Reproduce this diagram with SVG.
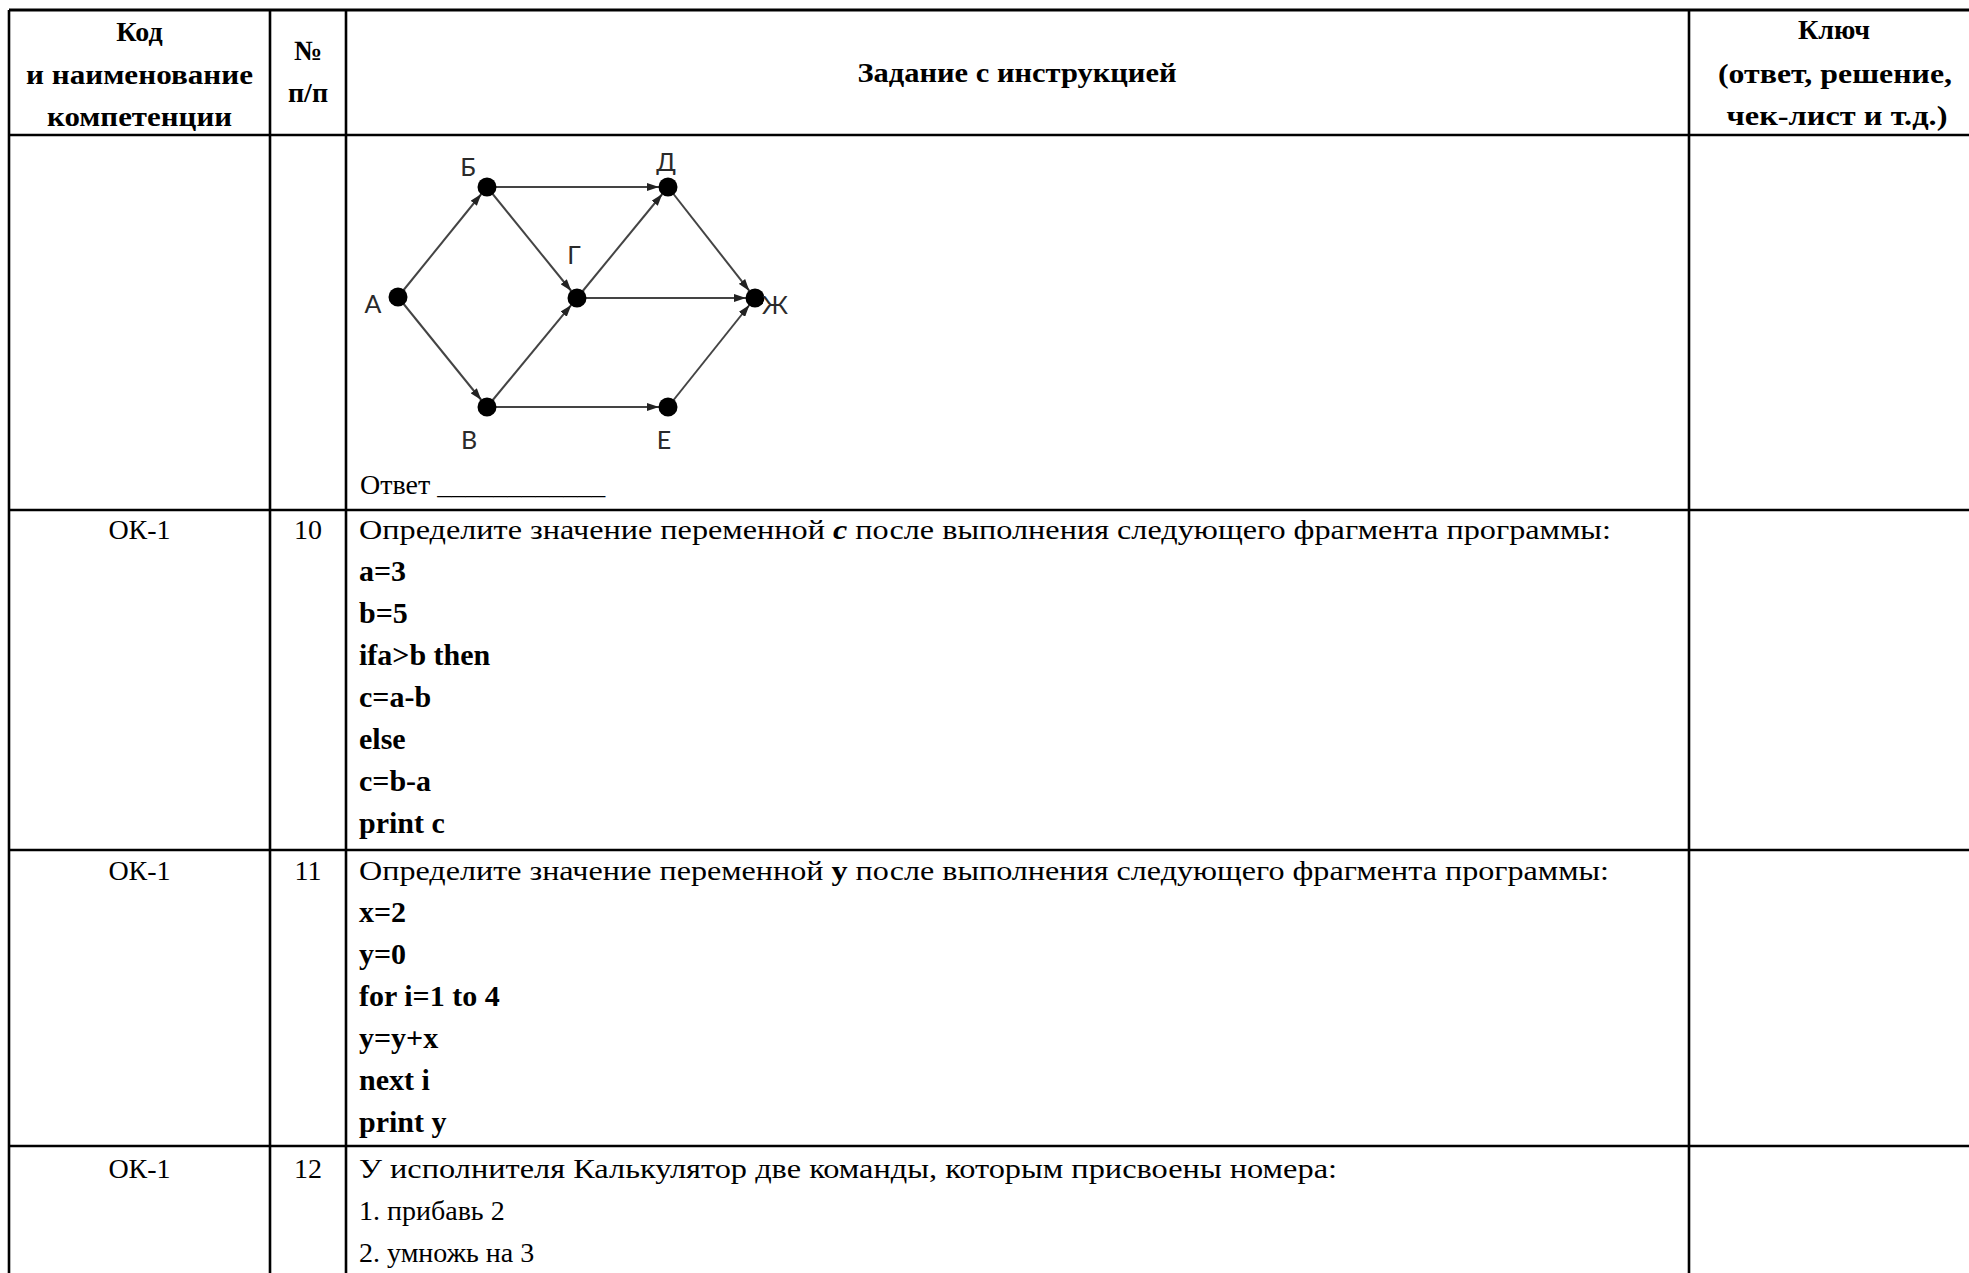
<svg xmlns="http://www.w3.org/2000/svg" width="1969" height="1273" viewBox="0 0 1969 1273">
<style>
.bg{fill:#fff}
.grid{stroke:#000;stroke-width:2.6;fill:none}
.t{font-family:"Liberation Serif","Times New Roman",serif;font-size:28px;fill:#000}
.b{font-weight:bold}
.code{font-size:30px}
.c{text-anchor:middle}
.i{font-style:italic}
.edge{stroke:#444;stroke-width:2;fill:none}
.node{fill:#000}
.lbl{font-family:Lato,"Noto Sans","Liberation Sans",sans-serif;font-size:25px;fill:#2a2a2a;text-anchor:middle}
</style>
<defs>
<marker id="arr" viewBox="0 0 12 8" refX="12" refY="4" markerWidth="12" markerHeight="8" markerUnits="userSpaceOnUse" orient="auto">
<path d="M0,0 L12,4 L0,8 z" fill="#222"/>
</marker>
</defs>
<rect class="bg" x="0" y="0" width="1969" height="1273"/>

<g id="table-grid" class="grid">
<line x1="9" y1="10" x2="1969" y2="10" stroke-width="3"/>
<line x1="9" y1="135" x2="1969" y2="135"/>
<line x1="9" y1="510" x2="1969" y2="510"/>
<line x1="9" y1="850" x2="1969" y2="850"/>
<line x1="9" y1="1146" x2="1969" y2="1146"/>
<line x1="9" y1="10" x2="9" y2="1273"/>
<line x1="270" y1="10" x2="270" y2="1273"/>
<line x1="346" y1="10" x2="346" y2="1273"/>
<line x1="1689" y1="10" x2="1689" y2="1273"/>
</g>

<g id="header">
<text class="t b c" x="139.5" y="41">Код</text>
<text class="t b c" x="139.5" y="84" textLength="227" lengthAdjust="spacingAndGlyphs">и наименование</text>
<text class="t b c" x="139.5" y="126" textLength="185" lengthAdjust="spacingAndGlyphs">компетенции</text>
<text class="t b c" x="308" y="60">№</text>
<text class="t b c" x="308" y="102">п/п</text>
<text class="t b c" x="1017" y="82" textLength="319" lengthAdjust="spacingAndGlyphs">Задание с инструкцией</text>
<text class="t b c" x="1834" y="39">Ключ</text>
<text class="t b c" x="1835" y="83" textLength="234" lengthAdjust="spacingAndGlyphs">(ответ, решение,</text>
<text class="t b c" x="1837" y="125" textLength="221" lengthAdjust="spacingAndGlyphs">чек-лист и т.д.)</text>
</g>

<g id="row-graph">
<g id="connectors">
<line class="edge" x1="398" y1="297" x2="481.3" y2="194" marker-end="url(#arr)"/>
<line class="edge" x1="398" y1="297" x2="481.3" y2="400" marker-end="url(#arr)"/>
<line class="edge" x1="487" y1="187" x2="659" y2="187" marker-end="url(#arr)"/>
<line class="edge" x1="487" y1="187" x2="571.3" y2="291" marker-end="url(#arr)"/>
<line class="edge" x1="487" y1="407" x2="571.3" y2="304.9" marker-end="url(#arr)"/>
<line class="edge" x1="487" y1="407" x2="659" y2="407" marker-end="url(#arr)"/>
<line class="edge" x1="577" y1="298" x2="662.3" y2="194" marker-end="url(#arr)"/>
<line class="edge" x1="577" y1="298" x2="746" y2="298" marker-end="url(#arr)"/>
<line class="edge" x1="668" y1="187" x2="749.4" y2="290.9" marker-end="url(#arr)"/>
<line class="edge" x1="668" y1="407" x2="749.4" y2="305" marker-end="url(#arr)"/>
</g>
<g id="node-A"><circle class="node" cx="398" cy="297" r="9.5"/><text class="lbl" x="373" y="313">А</text></g>
<g id="node-B"><circle class="node" cx="487" cy="187" r="9.5"/><text class="lbl" x="468" y="176">Б</text></g>
<g id="node-V"><circle class="node" cx="487" cy="407" r="9.5"/><text class="lbl" x="469" y="449">В</text></g>
<g id="node-G"><circle class="node" cx="577" cy="298" r="9.5"/><text class="lbl" x="574" y="264">Г</text></g>
<g id="node-D"><circle class="node" cx="668" cy="187" r="9.5"/><text class="lbl" x="666" y="171">Д</text></g>
<g id="node-E"><circle class="node" cx="668" cy="407" r="9.5"/><text class="lbl" x="664" y="449">Е</text></g>
<g id="node-Zh"><circle class="node" cx="755" cy="298" r="9.5"/><text class="lbl" x="775" y="314">Ж</text></g>
<text class="t" x="360" y="494">Ответ ____________</text>
</g>

<g id="row-10">
<text class="t c" x="139.5" y="539">ОК-1</text>
<text class="t c" x="308" y="539">10</text>
<text class="t" x="359" y="539" textLength="1252" lengthAdjust="spacingAndGlyphs">Определите значение переменной <tspan class="b i">c</tspan> после выполнения следующего фрагмента программы:</text>
<text class="t b code" x="359" y="581">a=3</text>
<text class="t b code" x="359" y="623">b=5</text>
<text class="t b code" x="359" y="665">ifa&gt;b then</text>
<text class="t b code" x="359" y="707">c=a-b</text>
<text class="t b code" x="359" y="749">else</text>
<text class="t b code" x="359" y="791">c=b-a</text>
<text class="t b code" x="359" y="833">print c</text>
</g>

<g id="row-11">
<text class="t c" x="139.5" y="880">ОК-1</text>
<text class="t c" x="308" y="880">11</text>
<text class="t" x="359" y="880" textLength="1250" lengthAdjust="spacingAndGlyphs">Определите значение переменной <tspan class="b">y</tspan> после выполнения следующего фрагмента программы:</text>
<text class="t b code" x="359" y="922">x=2</text>
<text class="t b code" x="359" y="964">y=0</text>
<text class="t b code" x="359" y="1006">for i=1 to 4</text>
<text class="t b code" x="359" y="1048">y=y+x</text>
<text class="t b code" x="359" y="1090">next i</text>
<text class="t b code" x="359" y="1132">print y</text>
</g>

<g id="row-12">
<text class="t c" x="139.5" y="1178">ОК-1</text>
<text class="t c" x="308" y="1178">12</text>
<text class="t" x="359" y="1178" textLength="978" lengthAdjust="spacingAndGlyphs">У исполнителя Калькулятор две команды, которым присвоены номера:</text>
<text class="t" x="359" y="1220">1. прибавь 2</text>
<text class="t" x="359" y="1262">2. умножь на 3</text>
</g>
</svg>
